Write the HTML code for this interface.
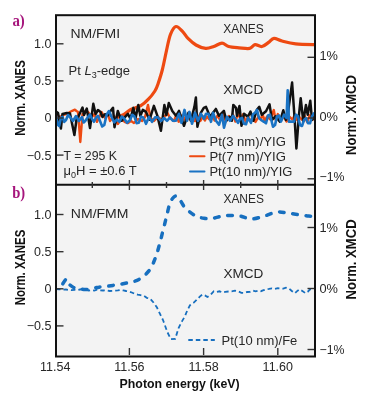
<!DOCTYPE html><html><head><meta charset="utf-8"><style>html,body{margin:0;padding:0;background:#fff;}svg{display:block;will-change:transform;}</style></head><body>
<svg width="370" height="403" viewBox="0 0 370 403" font-family="Liberation Sans, sans-serif">
<rect x="56" y="15.2" width="259" height="341.3" fill="#f3f3f3"/>
<defs><clipPath id="ca"><rect x="56" y="15.2" width="259" height="169.6"/></clipPath><clipPath id="cb"><rect x="56" y="184.8" width="259" height="171.7"/></clipPath></defs>
<g clip-path="url(#ca)" fill="none" stroke-linejoin="round" stroke-linecap="round">
<path d="M116.0,118.0 C117.3,117.4 121.7,115.8 124.0,114.5 C126.3,113.2 127.2,111.5 130.0,110.0 C132.8,108.5 137.7,107.5 140.8,105.7 C143.9,103.9 146.1,101.7 148.4,99.2 C150.8,96.8 153.3,93.5 154.9,91.0 C156.5,88.5 156.8,87.6 158.0,84.0 C159.2,80.4 161.0,75.1 162.4,69.5 C163.8,63.9 165.2,56.4 166.5,50.5 C167.8,44.6 168.9,38.3 170.5,34.3 C172.1,30.3 174.0,26.9 176.0,26.5 C178.0,26.1 180.7,29.6 182.7,31.6 C184.7,33.6 185.8,36.2 188.0,38.4 C190.2,40.6 193.1,43.3 196.0,45.0 C198.9,46.7 202.7,48.1 205.7,48.4 C208.7,48.6 211.1,47.4 213.8,46.5 C216.5,45.6 219.5,43.2 222.0,43.2 C224.5,43.2 225.8,45.7 228.6,46.5 C231.4,47.3 235.5,47.5 239.0,47.8 C242.5,48.1 247.0,48.9 249.7,48.4 C252.4,47.9 252.9,44.9 255.0,44.6 C257.1,44.3 259.7,46.9 262.0,46.5 C264.3,46.1 266.6,43.8 268.6,42.4 C270.6,41.0 271.8,38.6 274.0,38.4 C276.2,38.2 278.4,40.1 282.0,41.0 C285.6,41.9 290.0,43.2 295.7,43.8 C301.4,44.4 312.6,44.5 316.0,44.6" stroke="#ee4a12" stroke-width="3.2"/>
<path d="M56.0,115.0 L60.0,117.0 L63.0,115.0 L66.0,114.0 L69.0,112.5 L72.2,110.8 L74.9,109.7 L76.5,111.0 L78.0,112.0 L80.3,142.0 L82.5,114.0 L84.0,114.0 L86.0,110.5 L88.4,112.4 L92.0,117.0 L94.5,114.0 L97.0,121.8 L101.6,112.0 L105.0,118.0 L108.0,114.5 L110.0,121.0 L114.0,116.0 L117.8,124.0 L121.0,119.0 L125.0,122.0 L128.0,123.0 L131.0,121.0 L134.0,123.0 L138.0,119.0 L142.0,121.0 L145.0,117.0 L148.0,104.9 L150.5,118.0 L154.0,121.0 L158.0,117.0 L162.0,120.0 L165.0,116.0 L167.4,112.9 L170.0,118.0 L174.0,121.0 L176.0,115.6 L178.7,121.8 L181.2,115.5 L184.0,119.6 L186.6,115.1 L189.7,119.3 L191.9,116.7 L195.0,121.1 L196.9,114.1 L200.2,121.0 L203.0,116.5 L204.9,120.6 L206.8,116.4 L209.0,119.1 L211.5,115.7 L214.7,120.6 L217.5,115.5 L220.3,120.4 L222.6,114.0 L225.9,121.5 L228.9,116.1 L231.1,119.9 L233.0,114.7 L235.4,121.5 L237.8,114.1 L241.0,119.0 L243.1,114.3 L245.7,121.9 L248.1,116.8 L250.9,121.3 L253.2,116.7 L255.5,121.9 L258.5,116.6 L260.7,119.3 L262.6,114.6 L264.7,120.7 L267.2,116.4 L270.2,119.4 L273.8,110.0 L275.5,119.6 L277.8,114.1 L280.8,119.9 L284.0,116.4 L286.5,121.6 L289.3,116.7 L292.6,119.6 L294.9,114.7 L297.2,119.9 L299.1,116.7 L301.9,119.7 L304.6,115.9 L307.1,121.9 L309.7,115.3 L312.9,119.5 L315.0,114.3" stroke="#ee4a12" stroke-width="2.4"/>
<path d="M56.0,111.4 L58.0,113.0 L60.9,128.6 L62.5,114.0 L66.8,113.0 L70.0,113.5 L74.4,135.0 L76.5,119.5 L78.2,117.0 L82.5,107.6 L84.0,115.0 L86.8,108.6 L90.0,128.0 L93.3,103.8 L95.6,114.0 L98.0,110.0 L100.5,112.0 L102.5,117.0 L104.8,114.2 L108.0,115.3 L110.5,111.0 L113.0,107.7 L114.5,127.2 L117.8,111.0 L121.5,120.8 L126.0,115.9 L127.9,113.9 L130.4,118.8 L133.4,107.9 L135.4,118.8 L138.3,104.9 L140.3,115.9 L142.8,109.9 L146.0,111.9 L149.5,119.8 L153.9,105.9 L157.4,115.9 L160.9,130.8 L164.4,104.9 L166.4,114.9 L168.8,103.0 L172.3,110.9 L176.0,115.8 L179.0,110.9 L184.0,125.8 L188.4,112.8 L190.9,120.8 L194.4,106.9 L195.9,97.5 L197.4,126.7 L200.8,112.8 L203.8,107.9 L206.0,106.9 L210.0,116.8 L215.9,108.9 L218.9,115.8 L223.9,110.9 L226.4,120.8 L229.8,116.8 L231.8,120.8 L233.3,104.9 L236.0,107.9 L237.0,115.8 L239.5,105.9 L241.5,125.8 L244.0,113.8 L247.9,116.8 L250.5,111.5 L253.4,120.8 L256.9,109.9 L259.3,106.9 L261.8,114.8 L266.0,111.2 L269.5,104.3 L272.0,119.9 L275.5,116.4 L279.9,121.6 L283.3,110.3 L285.9,119.9 L287.7,114.7 L292.1,82.6 L294.7,119.9 L296.4,148.5 L299.0,114.7 L300.7,98.2 L303.3,121.6 L305.9,105.1 L307.7,114.7 L310.3,100.8 L312.0,119.9 L316.0,114.7" stroke="#111" stroke-width="2.5"/>
<path d="M56.0,116.2 L57.6,124.6 L59.2,126.0 L60.9,117.9 L62.5,116.8 L64.2,121.9 L66.0,120.0 L68.0,115.0 L70.0,117.0 L73.0,121.0 L76.0,116.0 L79.0,121.0 L82.0,117.0 L83.6,122.5 L85.2,121.0 L88.0,117.0 L90.0,114.5 L92.0,119.0 L94.0,121.8 L96.0,117.5 L98.0,115.8 L100.0,121.0 L102.2,126.5 L104.3,125.0 L106.7,114.5 L109.0,111.0 L112.0,118.0 L114.3,122.3 L116.7,119.6 L119.5,121.8 L121.8,116.5 L124.0,118.3 L127.0,122.8 L129.9,120.3 L132.2,114.8 L134.4,116.4 L136.6,123.1 L138.8,122.8 L141.1,116.6 L143.3,117.4 L146.0,123.8 L149.0,116.9 L152.0,121.8 L155.0,117.4 L158.0,117.4 L161.0,121.0 L164.0,118.0 L167.0,120.8 L170.0,117.4 L173.0,120.8 L176.0,120.8 L179.0,113.8 L181.5,122.8 L184.5,109.9 L187.0,120.8 L189.5,111.9 L192.0,123.8 L195.0,112.8 L198.0,120.8 L201.0,113.8 L204.0,118.8 L206.0,113.8 L208.5,113.8 L211.0,121.8 L213.0,112.8 L216.0,120.8 L219.0,124.8 L222.0,114.8 L224.0,127.7 L227.0,116.8 L230.0,120.8 L233.0,115.8 L236.0,119.8 L238.0,122.8 L240.0,118.8 L242.0,117.8 L244.0,123.8 L246.0,124.3 L248.0,117.8 L251.0,122.8 L253.0,114.3 L255.0,112.8 L257.0,109.9 L259.0,118.3 L261.0,119.8 L264.0,121.8 L266.0,123.3 L268.0,115.5 L270.0,114.7 L273.0,126.8 L275.0,125.1 L277.0,116.4 L279.0,115.5 L281.0,121.6 L284.0,114.7 L286.5,118.0 L287.7,90.4 L289.0,121.6 L292.0,121.6 L294.0,121.7 L296.0,114.7 L298.0,116.3 L300.0,125.0 L302.0,126.0 L304.0,119.9 L306.0,118.1 L308.0,123.3 L310.0,123.3 L312.0,116.4 L314.0,113.3 L316.0,117.3" stroke="#1a73c4" stroke-width="2.6"/>
</g>
<g clip-path="url(#cb)" fill="none" stroke="#176fbf">
<path d="M59.0,289.5 C59.5,288.8 60.8,286.8 62.0,285.0 C63.2,283.2 65.4,279.2 66.5,279.0 C67.6,278.8 67.3,282.1 68.5,283.5 C69.7,284.9 71.7,286.6 73.6,287.5 C75.5,288.4 77.8,288.7 80.0,289.0 C82.2,289.3 84.2,289.8 87.0,289.5 C89.8,289.2 94.0,287.9 96.5,287.5 C99.0,287.1 99.2,287.2 102.0,286.8 C104.8,286.4 108.9,286.0 113.0,285.4 C117.1,284.8 122.4,284.0 126.7,283.0 C131.0,282.0 135.2,281.6 138.9,279.5 C142.6,277.4 146.4,274.1 149.1,270.6 C151.8,267.1 153.5,262.8 155.2,258.4 C156.9,254.0 158.2,249.1 159.5,244.5 C160.8,239.9 161.8,235.2 163.0,230.6 C164.2,226.0 165.4,221.0 166.5,216.7 C167.6,212.3 168.5,207.5 169.5,204.5 C170.5,201.5 171.4,199.9 172.5,198.5 C173.6,197.1 174.8,195.8 176.0,196.0 C177.2,196.2 178.4,197.9 180.0,200.0 C181.6,202.1 183.1,205.9 185.7,208.5 C188.3,211.1 192.3,214.1 195.4,215.7 C198.5,217.3 201.1,217.9 204.0,218.3 C206.9,218.7 209.3,218.7 212.7,218.3 C216.1,217.9 220.2,216.1 224.6,215.7 C229.0,215.3 234.6,215.3 239.0,215.8 C243.4,216.3 246.7,218.8 250.9,218.9 C255.1,219.0 259.6,217.3 264.0,216.2 C268.4,215.0 272.6,212.4 277.0,212.0 C281.4,211.6 285.2,212.8 290.5,213.5 C295.8,214.2 304.4,215.6 308.7,216.0 C312.9,216.4 314.8,216.0 316.0,216.0" stroke-width="3.5" stroke-dasharray="4.6 8.7" stroke-dashoffset="6.3" stroke-linecap="round"/>
<path d="M56.0,289.0 L59.3,289.3 L62.7,289.7 L66.0,289.5 L68.8,289.9 L71.6,290.1 L74.4,289.8 L77.2,290.1 L80.0,289.5 L82.9,289.0 L85.7,289.7 L88.6,290.5 L91.4,290.2 L94.3,290.6 L97.1,289.6 L100.0,290.3 L103.2,290.5 L106.5,290.4 L109.7,291.0 L112.4,290.8 L115.1,290.6 L117.8,290.3 L120.5,289.9 L123.3,290.4 L126.0,291.0 L129.2,291.5 L132.4,292.7 L135.1,294.1 L137.8,294.7 L140.5,295.1 L143.7,295.8 L146.8,297.8 L150.0,298.5 L153.5,302.5 L157.0,307.5 L160.0,313.9 L163.0,320.0 L167.4,332.2 L170.9,339.1 L175.2,338.8 L178.7,327.8 L181.8,321.6 L184.8,316.5 L187.4,310.2 L190.0,305.2 L193.5,302.9 L197.0,299.5 L199.8,296.6 L202.5,294.5 L204.9,295.4 L207.4,297.0 L210.6,294.8 L213.8,291.2 L216.7,291.9 L219.5,291.3 L222.3,292.4 L225.2,291.9 L228.4,291.5 L231.7,291.3 L234.9,290.6 L238.2,291.3 L241.4,292.8 L244.2,292.9 L247.1,292.0 L250.0,291.8 L252.8,290.6 L255.5,291.4 L258.2,290.7 L260.9,291.2 L263.6,290.2 L266.3,289.2 L269.0,288.9 L272.0,288.4 L275.0,288.9 L277.8,288.2 L280.5,288.4 L283.3,288.7 L286.0,287.7 L288.8,288.3 L291.8,291.0 L294.8,293.2 L297.1,291.1 L299.4,289.4 L302.4,291.0 L305.5,293.2 L307.8,291.7 L310.0,289.4 L313.0,289.1 L316.0,288.9" stroke-width="1.8" stroke-dasharray="4.5 3"/>
</g>
<g stroke="#111" stroke-width="2" fill="none">
<rect x="56" y="15.2" width="259" height="341.3"/>
<line x1="56" y1="184.8" x2="315" y2="184.8"/>
</g>
<g stroke="#333" stroke-width="1.4">
<line x1="57" y1="43.8" x2="63.5" y2="43.8"/>
<line x1="57" y1="214.5" x2="63.5" y2="214.5"/>
<line x1="57" y1="80.9" x2="63.5" y2="80.9"/>
<line x1="57" y1="251.7" x2="63.5" y2="251.7"/>
<line x1="57" y1="118.0" x2="63.5" y2="118.0"/>
<line x1="57" y1="288.8" x2="63.5" y2="288.8"/>
<line x1="57" y1="155.1" x2="63.5" y2="155.1"/>
<line x1="57" y1="325.9" x2="63.5" y2="325.9"/>
<line x1="307.5" y1="57.3" x2="314" y2="57.3"/>
<line x1="307.5" y1="118.0" x2="314" y2="118.0"/>
<line x1="307.5" y1="178.8" x2="314" y2="178.8"/>
<line x1="307.5" y1="227.5" x2="314" y2="227.5"/>
<line x1="307.5" y1="288.5" x2="314" y2="288.5"/>
<line x1="307.5" y1="349.5" x2="314" y2="349.5"/>
<line x1="129.4" y1="180" x2="129.4" y2="190"/>
<line x1="129.4" y1="348" x2="129.4" y2="355"/>
<line x1="203.6" y1="180" x2="203.6" y2="190"/>
<line x1="203.6" y1="348" x2="203.6" y2="355"/>
<line x1="277.8" y1="180" x2="277.8" y2="190"/>
<line x1="277.8" y1="348" x2="277.8" y2="355"/>
<line x1="92.3" y1="182" x2="92.3" y2="188"/>
<line x1="166.5" y1="182" x2="166.5" y2="188"/>
<line x1="240.7" y1="182" x2="240.7" y2="188"/>
</g>
<text x="51.5" y="48.2" font-size="12.5" text-anchor="end" fill="#272727" font-weight="normal" >1.0</text>
<text x="51.5" y="218.9" font-size="12.5" text-anchor="end" fill="#272727" font-weight="normal" >1.0</text>
<text x="51.5" y="85.3" font-size="12.5" text-anchor="end" fill="#272727" font-weight="normal" >0.5</text>
<text x="51.5" y="256.1" font-size="12.5" text-anchor="end" fill="#272727" font-weight="normal" >0.5</text>
<text x="51.5" y="122.4" font-size="12.5" text-anchor="end" fill="#272727" font-weight="normal" >0</text>
<text x="51.5" y="293.2" font-size="12.5" text-anchor="end" fill="#272727" font-weight="normal" >0</text>
<text x="51.5" y="159.5" font-size="12.5" text-anchor="end" fill="#272727" font-weight="normal" >−0.5</text>
<text x="51.5" y="330.3" font-size="12.5" text-anchor="end" fill="#272727" font-weight="normal" >−0.5</text>
<text x="319.5" y="59.9" font-size="12.5" text-anchor="start" fill="#272727" font-weight="normal" textLength="18.5" lengthAdjust="spacingAndGlyphs">1%</text>
<text x="319.5" y="120.6" font-size="12.5" text-anchor="start" fill="#272727" font-weight="normal" textLength="18.5" lengthAdjust="spacingAndGlyphs">0%</text>
<text x="319.5" y="181.4" font-size="12.5" text-anchor="start" fill="#272727" font-weight="normal" textLength="25" lengthAdjust="spacingAndGlyphs">−1%</text>
<text x="319.5" y="231.9" font-size="12.5" text-anchor="start" fill="#272727" font-weight="normal" textLength="18.5" lengthAdjust="spacingAndGlyphs">1%</text>
<text x="319.5" y="292.9" font-size="12.5" text-anchor="start" fill="#272727" font-weight="normal" textLength="18.5" lengthAdjust="spacingAndGlyphs">0%</text>
<text x="319.5" y="353.9" font-size="12.5" text-anchor="start" fill="#272727" font-weight="normal" textLength="25" lengthAdjust="spacingAndGlyphs">−1%</text>
<text x="55.2" y="370.5" font-size="12.5" text-anchor="middle" fill="#272727" font-weight="normal" >11.54</text>
<text x="129.4" y="370.5" font-size="12.5" text-anchor="middle" fill="#272727" font-weight="normal" >11.56</text>
<text x="203.6" y="370.5" font-size="12.5" text-anchor="middle" fill="#272727" font-weight="normal" >11.58</text>
<text x="277.8" y="370.5" font-size="12.5" text-anchor="middle" fill="#272727" font-weight="normal" >11.60</text>
<text x="179.6" y="387.5" font-size="13.0" text-anchor="middle" fill="#111" font-weight="bold" textLength="120" lengthAdjust="spacingAndGlyphs">Photon energy (keV)</text>
<text x="12.4" y="25.7" font-size="16.5" text-anchor="start" fill="#a6157c" font-weight="bold" font-family="Liberation Serif, serif" textLength="12.4" lengthAdjust="spacingAndGlyphs">a)</text>
<text x="12.2" y="197.6" font-size="16.5" text-anchor="start" fill="#a6157c" font-weight="bold" font-family="Liberation Serif, serif" textLength="13" lengthAdjust="spacingAndGlyphs">b)</text>
<text transform="translate(24.6,98) rotate(-90)" font-size="13.8" font-weight="bold" fill="#111" text-anchor="middle" textLength="75.5" lengthAdjust="spacingAndGlyphs">Norm. XANES</text>
<text transform="translate(24.6,267.5) rotate(-90)" font-size="13.8" font-weight="bold" fill="#111" text-anchor="middle" textLength="75.5" lengthAdjust="spacingAndGlyphs">Norm. XANES</text>
<text transform="translate(355.7,115) rotate(-90)" font-size="13.8" font-weight="bold" fill="#111" text-anchor="middle" textLength="80" lengthAdjust="spacingAndGlyphs">Norm. XMCD</text>
<text transform="translate(355.7,259.4) rotate(-90)" font-size="13.8" font-weight="bold" fill="#111" text-anchor="middle" textLength="80" lengthAdjust="spacingAndGlyphs">Norm. XMCD</text>
<text x="70.4" y="38.4" font-size="13.0" text-anchor="start" fill="#272727" font-weight="normal" textLength="49.8" lengthAdjust="spacingAndGlyphs">NM/FMI</text>
<text x="68.5" y="74.9" font-size="13" fill="#272727">Pt <tspan font-style="italic">L</tspan><tspan font-size="9" dy="3">3</tspan><tspan dy="-3">-edge</tspan></text>
<text x="223.2" y="33.4" font-size="13.5" text-anchor="start" fill="#272727" font-weight="normal" textLength="40.6" lengthAdjust="spacingAndGlyphs">XANES</text>
<text x="223.2" y="94.3" font-size="13.5" text-anchor="start" fill="#272727" font-weight="normal" textLength="40" lengthAdjust="spacingAndGlyphs">XMCD</text>
<text x="63.5" y="159.5" font-size="13.0" text-anchor="start" fill="#272727" font-weight="normal" textLength="53.5" lengthAdjust="spacingAndGlyphs">T = 295 K</text>
<text x="63.5" y="175.3" font-size="13" fill="#272727">μ<tspan font-size="9" dy="3">0</tspan><tspan dy="-3">H = ±0.6 T</tspan></text>
<line x1="190" y1="141.6" x2="204.5" y2="141.6" stroke="#111" stroke-width="2" stroke-linecap="round"/>
<text x="209.4" y="146.1" font-size="12.5" text-anchor="start" fill="#272727" font-weight="normal" textLength="76.5" lengthAdjust="spacingAndGlyphs">Pt(3 nm)/YIG</text>
<line x1="190" y1="156.3" x2="204.5" y2="156.3" stroke="#ee4a12" stroke-width="2" stroke-linecap="round"/>
<text x="209.4" y="160.8" font-size="12.5" text-anchor="start" fill="#272727" font-weight="normal" textLength="76.5" lengthAdjust="spacingAndGlyphs">Pt(7 nm)/YIG</text>
<line x1="190" y1="171.4" x2="204.5" y2="171.4" stroke="#1a73c4" stroke-width="2" stroke-linecap="round"/>
<text x="209.4" y="175.9" font-size="12.5" text-anchor="start" fill="#272727" font-weight="normal" textLength="83.0" lengthAdjust="spacingAndGlyphs">Pt(10 nm)/YIG</text>
<text x="70.8" y="218.1" font-size="13.0" text-anchor="start" fill="#272727" font-weight="normal" textLength="57.7" lengthAdjust="spacingAndGlyphs">NM/FMM</text>
<text x="223.4" y="203.0" font-size="13.5" text-anchor="start" fill="#272727" font-weight="normal" textLength="40.6" lengthAdjust="spacingAndGlyphs">XANES</text>
<text x="223.4" y="278.2" font-size="13.5" text-anchor="start" fill="#272727" font-weight="normal" textLength="40" lengthAdjust="spacingAndGlyphs">XMCD</text>
<line x1="188.3" y1="340" x2="214.8" y2="340" stroke="#176fbf" stroke-width="1.8" stroke-dasharray="4.5 3"/>
<text x="221.6" y="344.6" font-size="12.5" text-anchor="start" fill="#272727" font-weight="normal" textLength="75.7" lengthAdjust="spacingAndGlyphs">Pt(10 nm)/Fe</text>
</svg></body></html>
